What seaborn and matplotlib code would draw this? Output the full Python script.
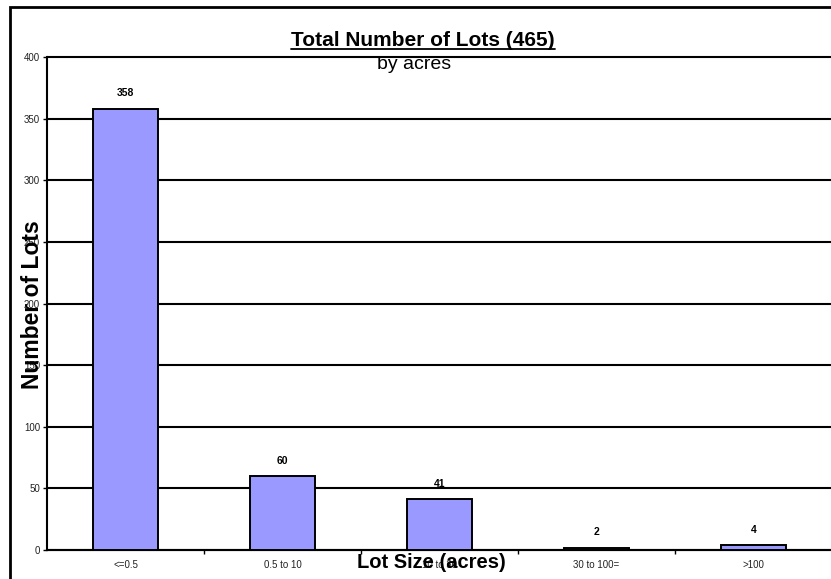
import matplotlib
matplotlib.use("Agg")
import matplotlib.pyplot as plt
import seaborn as sns
import pandas as pd
from matplotlib.lines import Line2D
from matplotlib.patches import Rectangle

categories = ["<=0.5", "0.5 to 10", "10 to 30", "30 to 100=", ">100"]
lots = [358, 60, 41, 2, 4]
y_ticks = [0, 50, 100, 150, 200, 250, 300, 350, 400]

sns.set_style("white")
plt.rcParams["font.family"] = ["Liberation Sans", "DejaVu Sans"]
plt.rcParams["text.color"] = "black"

df = pd.DataFrame({"size": categories, "lots": lots})

W, H = 831, 579
fig = plt.figure(figsize=(W / 100, H / 100), dpi=100)
ax = fig.add_axes([47 / W, 1 - 550 / H, 785 / W, 493 / H])

sns.barplot(data=df, x="size", y="lots", ax=ax, color="#9999FF",
            saturation=1, width=0.41, edgecolor="black", linewidth=1.4,
            zorder=3)

ax.set_ylim(0, 400)
ax.set_xlim(-0.5, len(categories) - 0.5)
ax.set_yticks(y_ticks)
ax.set_yticklabels([str(v) for v in y_ticks], fontsize=7, color="#222222")
ax.tick_params(axis="y", length=3, width=1, direction="out", pad=2, left=True,
               color="black")
ax.set_xticks(range(len(categories)))
ax.set_xticklabels(categories, fontsize=7, color="#222222")
ax.tick_params(axis="x", length=0, pad=7)
# small ticks between categories
ax.set_xticks([i + 0.5 for i in range(len(categories) - 1)], minor=True)
ax.tick_params(axis="x", which="minor", length=3, width=1, direction="out",
               bottom=True, color="black")

ax.grid(axis="y", color="black", linewidth=1.5, zorder=0)
for gl in ax.get_ygridlines():
    gl.set_clip_on(False)
ax.set_axisbelow(True)
for side in ["top", "right"]:
    ax.spines[side].set_visible(False)
ax.spines["left"].set_color("black")
ax.spines["left"].set_linewidth(1.5)
ax.spines["bottom"].set_color("black")
ax.spines["bottom"].set_linewidth(1.5)

for i, v in enumerate(lots):
    ax.annotate(str(v), (i, v), xytext=(0, 7.5), textcoords="offset points",
                ha="center", va="bottom", fontsize=7.5, fontweight="bold",
                color="black")

ax.set_xlabel("")
ax.set_ylabel("")
fig.text(431 / W, 1 - 568 / H, "Lot Size (acres)", ha="center", va="baseline",
         fontsize=14.5, fontweight="bold", color="black")
fig.text(33 / W, 1 - 305 / H, "Number of Lots", ha="center", va="center",
         fontsize=16.5, fontweight="bold", rotation=90, color="black")

title = fig.text(423 / W, 1 - 46 / H, "Total Number of Lots (465)", ha="center",
                 va="baseline", fontsize=15, fontweight="bold", color="black")
fig.text(414 / W, 1 - 69 / H, "by acres", ha="center", va="baseline",
         fontsize=14, color="black")

# underline the title
fig.canvas.draw()
bb = title.get_window_extent(fig.canvas.get_renderer())
uy = 1 - 49 / H
fig.add_artist(Line2D([bb.x0 / W, bb.x1 / W], [uy, uy],
                      transform=fig.transFigure, color="black", linewidth=1.3))

# chart area frame
fig.add_artist(Rectangle((10 / W, -0.05), 1.1, 1 - 7 / H + 0.05,
                         transform=fig.transFigure, fill=False,
                         edgecolor="black", linewidth=2))

fig.savefig("out.png", dpi=100)
